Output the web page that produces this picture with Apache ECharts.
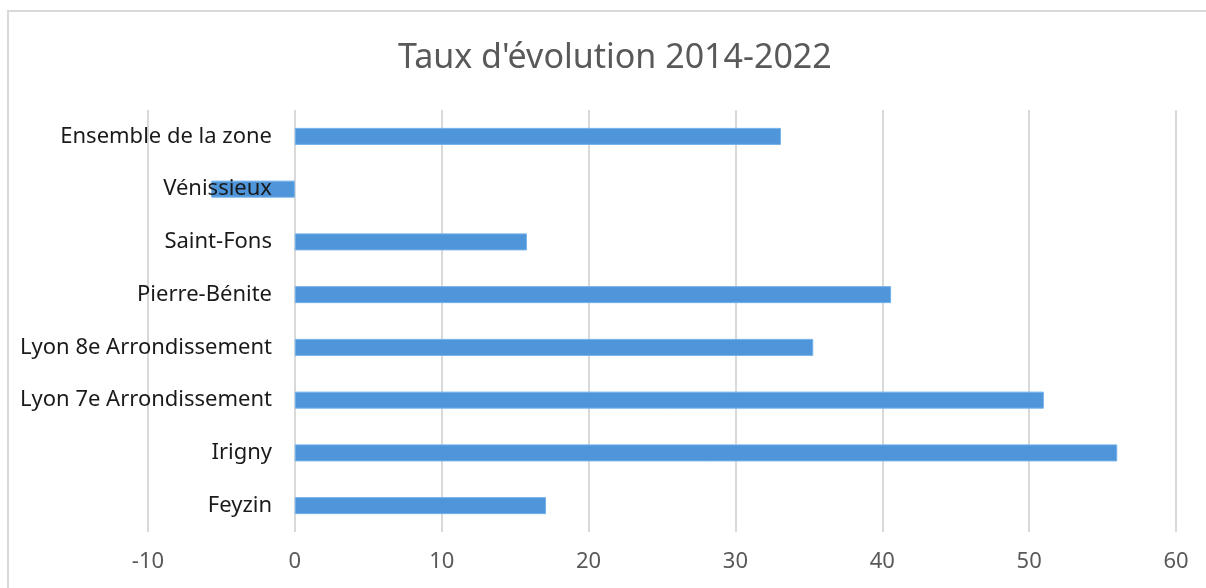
<!DOCTYPE html>
<html>
<head>
<meta charset="utf-8">
<script src="https://cdn.jsdelivr.net/npm/echarts@6/dist/echarts.min.js"></script>
<style>
html,body{margin:0;padding:0;background:#fff;}
#c{width:1206px;height:588px;}
</style>
</head>
<body>
<div id="c"></div>
<script>
const titleText = "Taux d'évolution 2014-2022";
const categories = ["Feyzin", "Irigny", "Lyon 7e Arrondissement", "Lyon 8e Arrondissement", "Pierre-Bénite", "Saint-Fons", "Vénissieux", "Ensemble de la zone"];
const values = [17.1, 56.0, 51.0, 35.3, 40.6, 15.8, -5.7, 33.1];
const xMin = -10, xMax = 60, xStep = 10;

const chart = echarts.init(document.getElementById('c'), null, {renderer: 'canvas'});
chart.setOption({
  backgroundColor: '#ffffff',
  animation: false,
  graphic: [{
    type: 'rect',
    shape: {x: 8, y: 11, width: 1240, height: 620},
    style: {fill: 'none', stroke: '#d9d9d9', lineWidth: 2},
    silent: true, z: -10
  }],
  title: {
    text: titleText,
    left: 393,
    top: 36,
    textStyle: {fontFamily: 'Noto Sans', fontSize: 34, fontWeight: 'normal', color: '#595959'}
  },
  grid: {left: 148, right: 30, top: 110, bottom: 56, containLabel: false, outerBoundsMode: 'none'},
  xAxis: {
    type: 'value',
    min: xMin, max: xMax, interval: xStep,
    z: 0,
    axisLine: {show: false},
    axisTick: {show: false},
    splitLine: {show: true, lineStyle: {color: '#d9d9d9', width: 2}},
    axisLabel: {fontFamily: 'Noto Sans', fontSize: 22, color: '#595959', margin: 19}
  },
  yAxis: {
    type: 'category',
    data: categories,
    z: 5,
    axisLine: {show: false},
    axisTick: {show: false},
    splitLine: {show: false},
    axisLabel: {fontFamily: 'Noto Sans', fontSize: 22, color: '#1a1a1a', margin: -124}
  },
  series: [{
    type: 'bar',
    data: values,
    barWidth: 17,
    z: 2,
    itemStyle: {color: '#4f95d9', borderColor: '#72b0ea', borderWidth: 1}
  }]
});
</script>
</body>
</html>
